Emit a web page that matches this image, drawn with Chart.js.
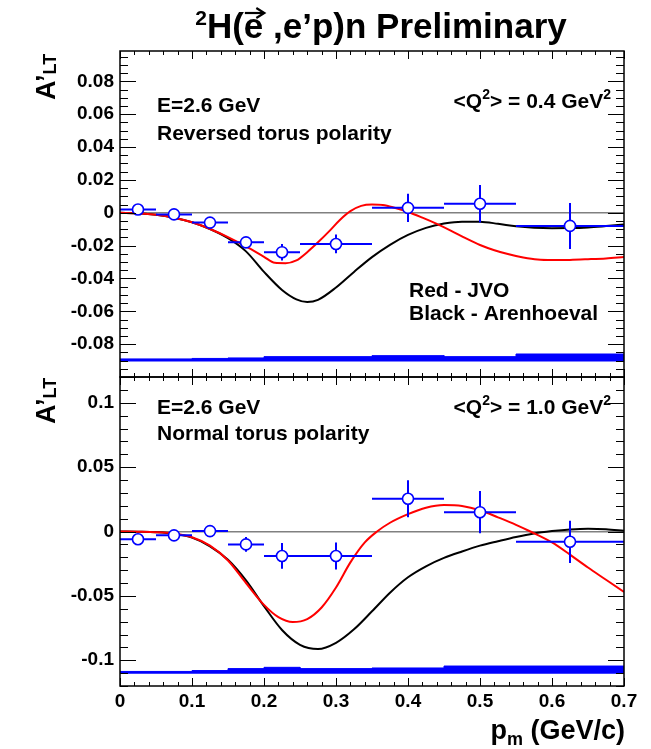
<!DOCTYPE html>
<html>
<head>
<meta charset="utf-8">
<title>2H(e,e'p)n Preliminary</title>
<script src="https://cdn.jsdelivr.net/npm/chart.js@4.4.1/dist/chart.umd.min.js"></script>
<style>
html,body{margin:0;padding:0;background:#ffffff;}
#wrap{position:relative;width:651px;height:749px;overflow:hidden;background:#fff;}
canvas{display:block;}
</style>
</head>
<body>
<div id="wrap"><canvas id="chart" width="651" height="749"></canvas></div>
<script>
// ---------------- data ----------------
const binLow   = [0.00, 0.05, 0.10, 0.15, 0.20, 0.25, 0.35, 0.45, 0.55];
const binHigh  = [0.05, 0.10, 0.15, 0.20, 0.25, 0.35, 0.45, 0.55, 0.70];
const pmCenter = [0.025, 0.075, 0.125, 0.175, 0.225, 0.30, 0.40, 0.50, 0.625];

// upper panel: <Q2> = 0.4 GeV2, reversed torus polarity
const topAsym = [0.002, -0.001, -0.006, -0.018, -0.024, -0.019, 0.003, 0.0055, -0.008];
const topErr  = [0.001, 0.001, 0.0015, 0.002, 0.005, 0.0057, 0.0086, 0.0114, 0.014];
const topSys  = [0.0015, 0.0015, 0.0018, 0.0021, 0.0029, 0.0029, 0.0035, 0.0029, 0.0045];
const topSysBase = -0.0905;

// lower panel: <Q2> = 1.0 GeV2, normal torus polarity
const botAsym = [-0.006, -0.003, 0.0003, -0.010, -0.019, -0.019, 0.0254, 0.015, -0.008];
const botErr  = [0.002, 0.002, 0.002, 0.0058, 0.010, 0.0105, 0.0144, 0.0164, 0.0164];
const botSys  = [0.0018, 0.0018, 0.0025, 0.004, 0.005, 0.004, 0.0045, 0.006, 0.006];
const botSysBase = -0.1105;

// theory curves (Red - JVO, Black - Arenhoeval)
const jvoTopP = [0,0.025,0.05,0.075,0.1,0.125,0.15,0.175,0.2,0.215,0.23,0.245,0.26,0.275,0.29,0.305,0.32,0.335,0.35,0.365,0.38,0.4,0.42,0.44,0.46,0.48,0.5,0.52,0.54,0.56,0.58,0.6,0.625,0.65,0.675,0.7];
const jvoTopA = [0,-0.0003,-0.0012,-0.003,-0.0058,-0.0099,-0.0148,-0.0205,-0.0268,-0.0305,-0.0307,-0.029,-0.024,-0.018,-0.0115,-0.0045,0.001,0.0042,0.005,0.0047,0.0032,0.0005,-0.003,-0.0068,-0.011,-0.0155,-0.0196,-0.0228,-0.0253,-0.0272,-0.0285,-0.0288,-0.0287,-0.0283,-0.0278,-0.027];
const arnTopP = [0,0.025,0.05,0.075,0.1,0.125,0.15,0.175,0.2,0.225,0.245,0.26,0.275,0.3,0.325,0.35,0.375,0.4,0.425,0.45,0.475,0.5,0.525,0.55,0.575,0.6,0.625,0.65,0.675,0.7];
const arnTopA = [0,-0.0003,-0.0012,-0.003,-0.0058,-0.0099,-0.0155,-0.0235,-0.036,-0.047,-0.0527,-0.0543,-0.053,-0.0455,-0.036,-0.027,-0.0195,-0.0135,-0.0092,-0.0066,-0.0054,-0.0055,-0.0067,-0.0082,-0.0091,-0.0094,-0.0093,-0.0089,-0.0081,-0.0072];
const jvoBotP = [0,0.025,0.05,0.075,0.1,0.125,0.15,0.175,0.2,0.22,0.24,0.26,0.28,0.3,0.32,0.34,0.357,0.375,0.4,0.425,0.45,0.475,0.5,0.525,0.55,0.57,0.6,0.625,0.65,0.675,0.7];
const jvoBotA = [0,-0.0002,-0.0006,-0.0017,-0.0045,-0.011,-0.0225,-0.04,-0.057,-0.0665,-0.0703,-0.068,-0.059,-0.0435,-0.024,-0.0085,0,0.0068,0.0135,0.0185,0.0205,0.0198,0.0165,0.011,0.0052,0,-0.0085,-0.018,-0.028,-0.0375,-0.047];
const arnBotP = [0,0.025,0.05,0.075,0.1,0.125,0.15,0.175,0.2,0.225,0.25,0.275,0.3,0.325,0.35,0.375,0.4,0.425,0.45,0.475,0.5,0.525,0.55,0.575,0.6,0.625,0.65,0.675,0.7];
const arnBotA = [0,-0.0002,-0.0006,-0.0018,-0.0048,-0.0115,-0.022,-0.038,-0.058,-0.0765,-0.088,-0.0913,-0.0865,-0.076,-0.062,-0.0475,-0.0355,-0.027,-0.0205,-0.0155,-0.011,-0.0075,-0.0042,-0.0015,0.0003,0.0016,0.0022,0.0018,0.0005];

// axis ticks
const xTickStep = 0.1;
const topTickStep = 0.02;
const botTickStep = 0.05;

// ---------------- helpers ----------------
const FONT = '"Liberation Sans", Arial, Helvetica, sans-serif';
const BLUE = '#0000ff';

const xyPairs = (xs, ys) => xs.map((x, i) => ({x: x, y: ys[i]}));
function bandData(sys, base) {
  const d = [];
  for (let i = 0; i < binLow.length; i++) {
    d.push({x: binLow[i], y: base + sys[i]});
    d.push({x: binHigh[i], y: base + sys[i]});
  }
  return d;
}
function hBarData(vals) {
  const d = [];
  for (let i = 0; i < vals.length; i++) {
    d.push({x: binLow[i], y: vals[i]}, {x: binHigh[i], y: vals[i]}, {x: binHigh[i], y: null});
  }
  return d;
}
function vBarData(vals, errs) {
  const d = [];
  for (let i = 0; i < vals.length; i++) {
    d.push({x: pmCenter[i], y: vals[i] - errs[i]}, {x: pmCenter[i], y: vals[i] + errs[i]}, {x: pmCenter[i], y: null});
  }
  return d;
}
function panelDatasets(yId, vals, errs, sys, base, jP, jA, aP, aA) {
  return [
    {data: bandData(sys, base), yAxisID: yId, borderColor: BLUE, borderWidth: 1, backgroundColor: BLUE,
     fill: {value: base}, pointRadius: 0, tension: 0, order: 6},
    {data: xyPairs(aP, aA), yAxisID: yId, borderColor: '#000000', borderWidth: 2, pointRadius: 0,
     cubicInterpolationMode: 'monotone', fill: false, order: 5},
    {data: xyPairs(jP, jA), yAxisID: yId, borderColor: '#ff0000', borderWidth: 2, pointRadius: 0,
     cubicInterpolationMode: 'monotone', fill: false, order: 4},
    {data: hBarData(vals), yAxisID: yId, borderColor: BLUE, borderWidth: 2, pointRadius: 0, tension: 0,
     spanGaps: false, fill: false, order: 3},
    {data: vBarData(vals, errs), yAxisID: yId, borderColor: BLUE, borderWidth: 2, pointRadius: 0, tension: 0,
     spanGaps: false, fill: false, order: 2},
    {data: xyPairs(pmCenter, vals), yAxisID: yId, showLine: false, pointStyle: 'circle', pointRadius: 5.5,
     pointBorderWidth: 1.6, pointBorderColor: BLUE, pointBackgroundColor: '#ffffff', borderColor: BLUE, order: 1}
  ];
}

function tickFmt(step, hide) {
  return function (v) {
    const r = Math.round(v / step);
    if (Math.abs(v / step - r) > 1e-6) return '';
    const val = parseFloat((r * step).toFixed(3));
    if (hide && hide.some(h => Math.abs(h - val) < 1e-9)) return '';
    return String(val);
  };
}
const zeroGrid = {
  drawTicks: false,
  lineWidth: 1.5,
  color: (c) => (c.tick && Math.abs(c.tick.value) < 1e-12) ? '#808080' : 'rgba(0,0,0,0)'
};
const tickFont = {family: FONT, size: 19, weight: 'bold'};

// ---------------- frame + inward ticks (from the chart scales) ----------------
const framePlugin = {
  id: 'rootFrame',
  afterDatasetsDraw(chart) {
    const ctx = chart.ctx, xs = chart.scales.x;
    const L = chart.chartArea.left, R = chart.chartArea.right;
    ctx.save();
    ctx.strokeStyle = '#000';
    const panels = [['yTop', topTickStep, 4], ['yBot', botTickStep, 5]];
    for (const [id, step, nSub] of panels) {
      const ys = chart.scales[id];
      const T = ys.top, B = ys.bottom;
      ctx.lineWidth = 1;
      ctx.beginPath();
      const minor = step / nSub;
      const k0 = Math.ceil(ys.min / minor - 1e-6), k1 = Math.floor(ys.max / minor + 1e-6);
      for (let k = k0; k <= k1; k++) {
        const v = k * minor;
        const py = Math.round(ys.getPixelForValue(v)) + 0.5;
        const len = (k % nSub === 0) ? 16 : 8;
        ctx.moveTo(L, py); ctx.lineTo(L + len, py);
        ctx.moveTo(R, py); ctx.lineTo(R - len, py);
      }
      const xm = xTickStep / 5;
      const j1 = Math.round((xs.max - xs.min) / xm);
      for (let j = 0; j <= j1; j++) {
        const px = Math.round(xs.getPixelForValue(xs.min + j * xm)) + 0.5;
        const len = (j % 5 === 0) ? 8 : 4;
        ctx.moveTo(px, T); ctx.lineTo(px, T + len);
        ctx.moveTo(px, B); ctx.lineTo(px, B - len);
      }
      ctx.stroke();
      ctx.lineWidth = 1.5;
      ctx.strokeRect(L, T, R - L, B - T);
    }
    ctx.restore();
  }
};

// ---------------- text (title, axis titles, labels) ----------------
function drawRich(ctx, parts, x, y, align) {
  let w = 0;
  for (const p of parts) { ctx.font = 'bold ' + p.s + 'px ' + FONT; p.w = ctx.measureText(p.t).width; w += p.w; }
  let cx = align === 'right' ? x - w : (align === 'center' ? x - w / 2 : x);
  for (const p of parts) {
    ctx.font = 'bold ' + p.s + 'px ' + FONT;
    p.x = cx;
    ctx.fillText(p.t, cx, y + (p.dy || 0));
    cx += p.w;
  }
  return parts;
}
const textPlugin = {
  id: 'rootText',
  afterDraw(chart) {
    const ctx = chart.ctx;
    ctx.save();
    ctx.fillStyle = '#000';
    ctx.textAlign = 'left';
    ctx.textBaseline = 'alphabetic';
    // title
    const tp = drawRich(ctx, [
      {t: '2', s: 21, dy: -13}, {t: 'H(', s: 35}, {t: 'e', s: 35}, {t: ' ,e\u2019p)n Preliminary', s: 35}
    ], 381, 38, 'center');
    const e = tp[2];
    ctx.strokeStyle = '#000'; ctx.lineWidth = 2.2;
    const ax0 = e.x + 1, ax1 = e.x + e.w, ay = 13;
    ctx.beginPath(); ctx.moveTo(ax0, ay); ctx.lineTo(ax1, ay); ctx.stroke();
    ctx.beginPath(); ctx.moveTo(ax1 - 7, ay - 5); ctx.lineTo(ax1 + 1, ay); ctx.lineTo(ax1 - 7, ay + 5); ctx.stroke();

    // y axis titles (rotated)
    for (const y0 of [100, 424]) {
      ctx.save();
      ctx.translate(55, y0);
      ctx.rotate(-Math.PI / 2);
      drawRich(ctx, [{t: 'A\u2019', s: 27}, {t: 'LT', s: 18, dy: 1}], 0, 0, 'left');
      ctx.restore();
    }
    // x axis title
    drawRich(ctx, [{t: 'p', s: 27}, {t: 'm', s: 18, dy: 6}, {t: ' (GeV/c)', s: 27}], 625, 739, 'right');

    // panel labels
    drawRich(ctx, [{t: 'E=2.6 GeV', s: 21}], 157, 112, 'left');
    drawRich(ctx, [{t: 'Reversed torus polarity', s: 21}], 157, 140, 'left');
    drawRich(ctx, [{t: '<Q', s: 21}, {t: '2', s: 14, dy: -9}, {t: '> = 0.4 GeV', s: 21}, {t: '2', s: 14, dy: -9}], 611, 108, 'right');
    drawRich(ctx, [{t: 'Red - JVO', s: 21}], 409, 297, 'left');
    drawRich(ctx, [{t: 'Black - Arenhoeval', s: 21}], 409, 320, 'left');

    drawRich(ctx, [{t: 'E=2.6 GeV', s: 21}], 157, 414, 'left');
    drawRich(ctx, [{t: 'Normal torus polarity', s: 21}], 157, 440, 'left');
    drawRich(ctx, [{t: '<Q', s: 21}, {t: '2', s: 14, dy: -9}, {t: '> = 1.0 GeV', s: 21}, {t: '2', s: 14, dy: -9}], 611, 414, 'right');
    ctx.restore();
  }
};

// ---------------- chart ----------------
const datasets = [].concat(
  panelDatasets('yTop', topAsym, topErr, topSys, topSysBase, jvoTopP, jvoTopA, arnTopP, arnTopA),
  panelDatasets('yBot', botAsym, botErr, botSys, botSysBase, jvoBotP, jvoBotA, arnBotP, arnBotA)
);

new Chart(document.getElementById('chart'), {
  type: 'line',
  data: {datasets: datasets},
  options: {
    responsive: false,
    animation: false,
    devicePixelRatio: 1,
    layout: {padding: {top: 51, right: 27, left: 0, bottom: 0}},
    plugins: {legend: {display: false}, tooltip: {enabled: false}, title: {display: false}},
    elements: {line: {borderCapStyle: 'butt'}},
    scales: {
      x: {
        type: 'linear', position: 'bottom', min: 0, max: 0.7,
        grid: {display: false, drawTicks: false}, border: {display: false},
        ticks: {stepSize: xTickStep, includeBounds: false, autoSkip: false, maxRotation: 0, padding: 4, color: '#000', font: tickFont,
                callback: tickFmt(xTickStep)},
        afterFit(s) { s.height = 63; }
      },
      yBot: {
        type: 'linear', position: 'left', stack: 'panels', stackWeight: 309, min: -0.12, max: 0.12,
        grid: zeroGrid, border: {display: false},
        ticks: {stepSize: botTickStep, includeBounds: false, autoSkip: false, padding: 6, color: '#000', font: tickFont,
                callback: tickFmt(botTickStep, [0.12, -0.12])},
        afterFit(s) { s.width = 120; }
      },
      yTop: {
        type: 'linear', position: 'left', stack: 'panels', stackWeight: 326, min: -0.1, max: 0.0985,
        grid: zeroGrid, border: {display: false},
        ticks: {stepSize: topTickStep, includeBounds: false, autoSkip: false, padding: 6, color: '#000', font: tickFont,
                callback: tickFmt(topTickStep, [-0.1])},
        afterFit(s) { s.width = 120; }
      }
    }
  },
  plugins: [framePlugin, textPlugin]
});
</script>
</body>
</html>
